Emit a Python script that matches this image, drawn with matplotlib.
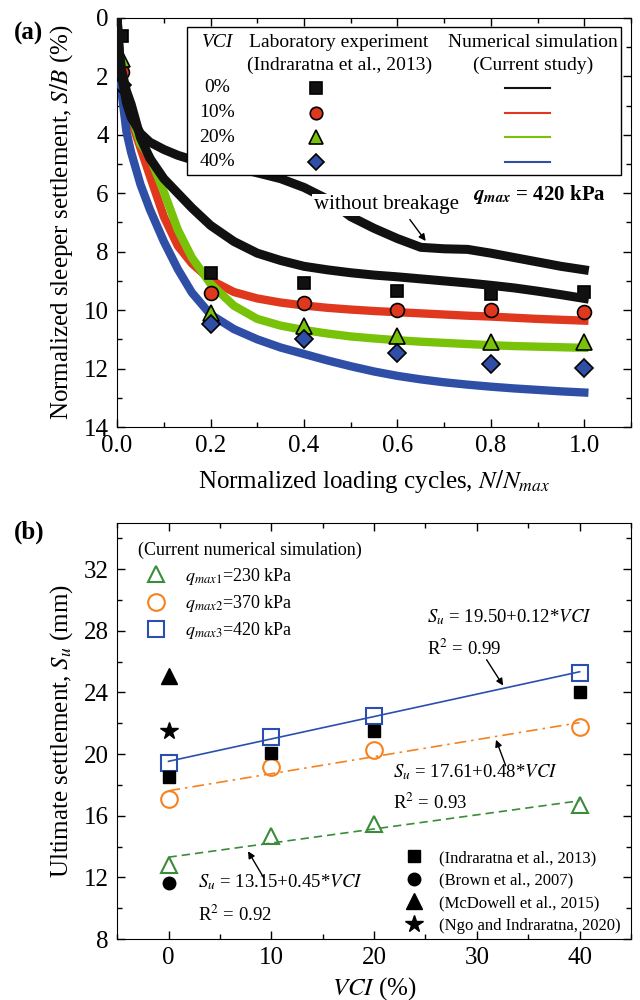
import numpy as np
import matplotlib
matplotlib.use("Agg")
import matplotlib.pyplot as plt
from matplotlib.patches import Rectangle
from matplotlib.lines import Line2D

plt.rcParams['font.family'] = ['Liberation Serif', 'DejaVu Serif']
plt.rcParams['mathtext.fontset'] = 'stix'
plt.rcParams['xtick.direction'] = 'in'
plt.rcParams['ytick.direction'] = 'in'
plt.rcParams['xtick.top'] = True
plt.rcParams['ytick.right'] = True

# ---------------- (a) data ----------------
vci_labels = ['0%', '10%', '20%', '40%']
n_exp = [0.01, 0.2, 0.4, 0.6, 0.8, 1.0]
exp_0 = [0.6, 8.72, 9.06, 9.33, 9.45, 9.38]
exp_10 = [1.85, 9.41, 9.75, 9.98, 9.98, 10.05]
exp_20 = [1.4, 10.09, 10.55, 10.89, 11.08, 11.08]
exp_40 = [2.3, 10.48, 11.0, 11.46, 11.83, 11.97]

n_sim = [0, .005, .01, .02, .03, .05, .07, .1, .13, .16, .2, .25, .3, .35, .4,
         .45, .5, .55, .6, .65, .7, .75, .8, .85, .9, .95, 1.0]
sim_0 = [0, 1.2, 1.8, 2.5, 2.95, 4.1, 4.8, 5.5, 6.0, 6.5, 7.1, 7.65, 8.05, 8.3,
         8.5, 8.62, 8.72, 8.8, 8.86, 8.93, 9.0, 9.07, 9.15, 9.24, 9.35, 9.47, 9.6]
sim_10 = [0, 1.4, 2.1, 2.9, 3.5, 4.45, 5.4, 6.8, 7.8, 8.4, 8.97, 9.38, 9.6, 9.74,
          9.84, 9.92, 9.98, 10.03, 10.07, 10.11, 10.15, 10.19, 10.22, 10.26, 10.3, 10.33, 10.36]
sim_20 = [0, 1.2, 1.9, 2.7, 3.3, 4.3, 4.75, 5.95, 7.25, 8.2, 9.1, 9.85, 10.3, 10.53,
          10.68, 10.8, 10.9, 10.97, 11.03, 11.08, 11.12, 11.16, 11.2, 11.23, 11.25, 11.27, 11.29]
sim_40 = [0, 1.8, 2.6, 3.9, 4.6, 5.7, 6.55, 7.65, 8.6, 9.4, 10.15, 10.65, 11.0, 11.28,
          11.5, 11.72, 11.92, 12.1, 12.25, 12.37, 12.47, 12.55, 12.62, 12.68, 12.73, 12.78, 12.82]
sim_nb = [0, 1.3, 2.0, 2.9, 3.4, 3.95, 4.25, 4.5, 4.7, 4.85, 4.95, 5.1, 5.3, 5.5,
          5.8, 6.2, 6.8, 7.2, 7.55, 7.85, 7.9, 7.92, 8.05, 8.2, 8.35, 8.5, 8.62]

# ---------------- (b) data ----------------
vci = [0, 10, 20, 40]
su_q1 = [12.8, 14.7, 15.45, 16.7]
su_q2 = [17.1, 19.14, 20.26, 21.73]
su_q3 = [19.4, 21.12, 22.5, 25.28]
su_indra = [18.53, 20.04, 21.5, 24.0]
su_brown = 11.65
su_mcd = 25.1
su_ngo = 21.5

c_red, c_green, c_blue, c_black = '#e0381e', '#78c30a', '#2f4fa6', '#111111'
c_g2, c_or, c_b2 = '#3a8c3a', '#f5821f', '#2b4fae'

fig = plt.figure(figsize=(6.4, 10), dpi=100)

# =============== panel (a) ===============
ax = fig.add_axes([0.183, 0.573, 0.803, 0.409])
lw = 6
ax.plot(n_sim, sim_10, color=c_red, lw=lw, zorder=2)
ax.plot(n_sim, sim_20, color=c_green, lw=lw, zorder=2.1)
ax.plot(n_sim, sim_40, color=c_blue, lw=lw, zorder=2.2)
ax.plot(n_sim, sim_0, color=c_black, lw=6.5, zorder=3.5)
ax.plot(n_sim, sim_nb, color=c_black, lw=6.5, zorder=3.5)

mk = dict(ls='none', mec='black', mew=1.2, zorder=3)
ax.plot(n_exp, exp_0, marker='s', ms=9, mfc=c_black, **mk)
ax.plot(n_exp, exp_10, marker='o', ms=10, mfc=c_red, **mk)
ax.plot(n_exp, exp_20, marker='^', ms=11, mfc=c_green, **mk)
ax.plot(n_exp, exp_40, marker='D', ms=9, mfc=c_blue, **mk)

ax.set_xlim(0, 1.1)
ax.set_ylim(14, 0)
ax.set_xticks(np.arange(0, 1.01, 0.2))
ax.set_xticks(np.arange(0, 1.11, 0.1), minor=True)
ax.set_yticks(np.arange(0, 14.1, 2))
ax.set_yticks(np.arange(0, 14.1, 1), minor=True)
ax.xaxis.set_major_formatter(matplotlib.ticker.FormatStrFormatter('%.1f'))
ax.tick_params(which='major', length=6, width=1, labelsize=18, pad=6)
ax.tick_params(which='minor', length=3.5, width=1)
ax.set_xlabel('Normalized loading cycles, $N/N_{max}$', fontsize=18, labelpad=8)
ax.set_ylabel('Normalized sleeper settlement, $S/B$ (%)', fontsize=18, labelpad=6)

# table-style legend
T = ax.transAxes
ax.add_patch(Rectangle((0.136, 0.616), 0.844, 0.362, transform=T, fc='white',
                       ec='black', lw=1, zorder=5))
fs = 14
ax.text(0.195, 0.941, 'VCI', style='italic', ha='center', va='center', fontsize=fs, transform=T, zorder=6)
ax.text(0.432, 0.941, 'Laboratory experiment', ha='center', va='center', fontsize=fs, transform=T, zorder=6)
ax.text(0.432, 0.885, '(Indraratna et al., 2013)', ha='center', va='center', fontsize=fs, transform=T, zorder=6)
ax.text(0.809, 0.941, 'Numerical simulation', ha='center', va='center', fontsize=fs, transform=T, zorder=6)
ax.text(0.809, 0.885, '(Current study)', ha='center', va='center', fontsize=fs, transform=T, zorder=6)
rows = [0.829, 0.768, 0.709, 0.648]
markers = ['s', 'o', '^', 'D']
mcols = [c_black, c_red, c_green, c_blue]
msz = [8, 9, 10, 8.5]
for lab, yy, m, c, s in zip(vci_labels, rows, markers, mcols, msz):
    ax.text(0.195, yy, lab, ha='center', va='center', fontsize=fs, transform=T, zorder=6)
    ax.add_line(Line2D([0.387], [yy], marker=m, ms=s, mfc=c, mec='black', mew=1.2,
                       transform=T, zorder=6))
    ax.add_line(Line2D([0.755, 0.842], [yy, yy], color=c, lw=1.5, transform=T, zorder=6))

ax.text(0.421, 6.4, 'without breakage', fontsize=15, va='center', zorder=4,
        bbox=dict(fc='white', ec='none', pad=1))
ax.annotate('', xy=(0.664, 7.71), xytext=(0.623, 6.82), zorder=4,
            arrowprops=dict(arrowstyle='-|>', color='black', lw=1, mutation_scale=10))
ax.text(0.762, 6.05, r'$\mathbfit{q}_{\mathbfit{max}}$ = 420 kPa', fontsize=15,
        fontweight='bold', va='center', zorder=4)
fig.text(0.022, 0.967, '(a)', fontsize=18, fontweight='bold', va='center')

# =============== panel (b) ===============
bx = fig.add_axes([0.183, 0.061, 0.803, 0.416])
ms_open = dict(ls='none', mfc='none', mew=1.5, zorder=4)
h1, = bx.plot(vci, su_q1, marker='^', ms=12, mec=c_g2, **ms_open)
h2, = bx.plot(vci, su_q2, marker='o', ms=12, mec=c_or, **ms_open)
h3, = bx.plot(vci, su_q3, marker='s', ms=11, mec=c_b2, **ms_open)

xl = np.array([0, 40])
for ys, col, style in [(su_q3, c_b2, '-'), (su_q2, c_or, (0, (7, 3, 1.5, 3))),
                       (su_q1, c_g2, (0, (5, 3)))]:
    k, b = np.polyfit(vci, ys, 1)
    bx.plot(xl, b + k * xl, color=col, ls=style, lw=1.2, zorder=3)

k1, = bx.plot(vci, su_indra, ls='none', marker='s', ms=9, color='black', zorder=5)
k2, = bx.plot([0], [su_brown], ls='none', marker='o', ms=9, color='black', zorder=5)
k3, = bx.plot([0], [su_mcd], ls='none', marker='^', ms=12, color='black', zorder=5)
k4, = bx.plot([0], [su_ngo], ls='none', marker='*', ms=13, color='black', zorder=5)

bx.set_xlim(-5, 45)
bx.set_ylim(8, 35)
bx.set_xticks([0, 10, 20, 30, 40])
bx.set_xticks(np.arange(-5, 45.1, 5), minor=True)
bx.set_yticks(np.arange(8, 32.1, 4))
bx.set_yticks(np.arange(8, 35, 2), minor=True)
bx.tick_params(which='major', length=6, width=1, labelsize=18, pad=6)
bx.tick_params(which='minor', length=3.5, width=1)
bx.set_xlabel('$VCI$ (%)', fontsize=18, labelpad=4)
bx.set_ylabel('Ultimate settlement, $S_u$ (mm)', fontsize=18, labelpad=6)

leg1 = bx.legend([h1, h2, h3],
                 [r'$q_{max\mathit{1}}$=230 kPa', r'$q_{max\mathit{2}}$=370 kPa',
                  r'$q_{max\mathit{3}}$=420 kPa'],
                 title='(Current numerical simulation)', title_fontsize=13, fontsize=13,
                 loc='upper left', bbox_to_anchor=(0.016, 0.985), frameon=False,
                 labelspacing=0.35, handletextpad=0.6, borderaxespad=0.3)
leg1._legend_box.align = 'left'
bx.add_artist(leg1)
bx.legend([k1, k2, k3, k4],
          ['(Indraratna et al., 2013)', '(Brown et al., 2007)',
           '(McDowell et al., 2015)', '(Ngo and Indraratna, 2020)'],
          fontsize=12, loc='lower right', bbox_to_anchor=(1.0, -0.012), frameon=False,
          labelspacing=0.4, handletextpad=0.5, borderaxespad=0.2)

fe = 13.5
bx.text(25.15, 28.87, '$S_u$ = 19.50+0.12*$VCI$', fontsize=fe, va='center')
bx.text(25.15, 26.86, 'R$^2$ = 0.99', fontsize=fe, va='center')
bx.annotate('', xy=(32.7, 24.3), xytext=(30.8, 26.28),
            arrowprops=dict(arrowstyle='-|>', color='black', lw=1, mutation_scale=10))
bx.text(21.8, 18.84, '$S_u$ = 17.61+0.48*$VCI$', fontsize=fe, va='center')
bx.text(21.8, 16.81, 'R$^2$ = 0.93', fontsize=fe, va='center')
bx.annotate('', xy=(31.77, 21.1), xytext=(32.9, 19.08),
            arrowprops=dict(arrowstyle='-|>', color='black', lw=1, mutation_scale=10))
bx.text(2.9, 11.71, '$S_u$ = 13.15+0.45*$VCI$', fontsize=fe, va='center')
bx.text(2.9, 9.55, 'R$^2$ = 0.92', fontsize=fe, va='center')
bx.annotate('', xy=(7.6, 13.85), xytext=(9.4, 11.82),
            arrowprops=dict(arrowstyle='-|>', color='black', lw=1, mutation_scale=10))
fig.text(0.022, 0.468, '(b)', fontsize=18, fontweight='bold', va='center')

fig.savefig('out.png', dpi=100)
